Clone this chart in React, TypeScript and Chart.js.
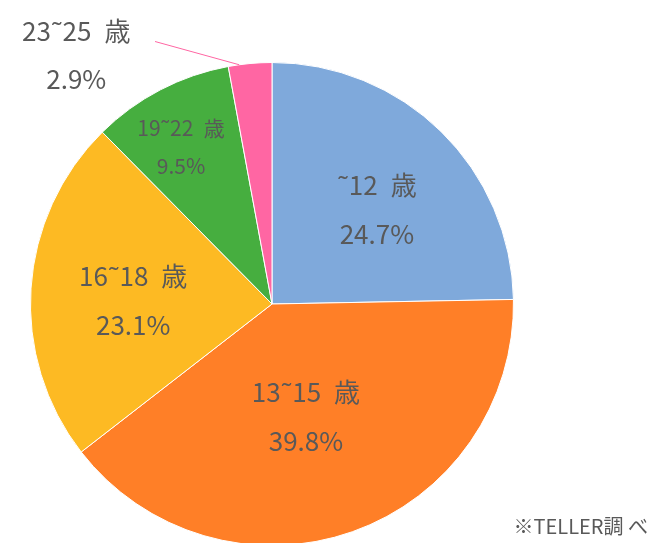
import React, { useEffect, useRef } from "react";
import { Chart, registerables } from "chart.js";

Chart.register(...registerables);

const categories = ["˜12\u2002歳", "13˜15\u2002歳", "16˜18\u2002歳", "19˜22\u2002歳", "23˜25\u2002歳"];
const shares = [24.7, 39.8, 23.1, 9.5, 2.9];
const percentLabels = ["24.7%", "39.8%", "23.1%", "9.5%", "2.9%"];
const colors = ["#7FA9DB", "#FF7F27", "#FDBA23", "#46AE3F", "#FF66A3"];
const sourceNote = "※TELLER調 べ";

// label layout: radial factor, angle offset (deg) from slice mid-angle, font size, line gap
const labelLayout = [
  { f: 0.583, off: 3.7, size: 26, gap: 49 },
  { f: 0.488, off: 2.7, size: 26, gap: 49 },
  { f: 0.575, off: -2.2, size: 26, gap: 49 },
  { f: 0.75, off: -2.6, size: 21, gap: 38 },
  { f: 1.31, off: -33, size: 26, gap: 48, leader: { f1: 1.0, o1: -2.6, f2: 1.19, o2: -18.8 } },
];

const FONT = '"Noto Sans CJK JP", "Noto Sans", sans-serif';

const labelPlugin = {
  id: "pieLabels",
  afterDatasetsDraw(chart: any) {
    const ctx = chart.ctx;
    const meta = chart.getDatasetMeta(0);
    meta.data.forEach((arc: any, i: number) => {
      const p = arc.getProps(["x", "y", "startAngle", "endAngle", "outerRadius"], true);
      const mid = (p.startAngle + p.endAngle) / 2;
      const L = labelLayout[i];
      const a = mid + (L.off * Math.PI) / 180;
      const cx = p.x + Math.cos(a) * p.outerRadius * L.f;
      const cy = p.y + Math.sin(a) * p.outerRadius * L.f;
      ctx.save();
      if (L.leader) {
        const a1 = mid + (L.leader.o1 * Math.PI) / 180;
        const a2 = mid + (L.leader.o2 * Math.PI) / 180;
        ctx.strokeStyle = colors[i];
        ctx.lineWidth = 1;
        ctx.beginPath();
        ctx.moveTo(p.x + Math.cos(a1) * p.outerRadius * L.leader.f1, p.y + Math.sin(a1) * p.outerRadius * L.leader.f1);
        ctx.lineTo(p.x + Math.cos(a2) * p.outerRadius * L.leader.f2, p.y + Math.sin(a2) * p.outerRadius * L.leader.f2);
        ctx.stroke();
      }
      ctx.fillStyle = "#595959";
      ctx.textAlign = "center";
      ctx.textBaseline = "middle";
      ctx.font = `${L.size}px ${FONT}`;
      ctx.fillText(categories[i], cx, cy - L.gap / 2);
      ctx.fillText(percentLabels[i], cx, cy + L.gap / 2);
      ctx.restore();
    });
    ctx.save();
    ctx.fillStyle = "#595959";
    ctx.font = `20px ${FONT}`;
    ctx.textAlign = "right";
    ctx.textBaseline = "middle";
    ctx.fillText(sourceNote, 648, 526);
    ctx.restore();
  },
};

export default function App() {
  const ref = useRef<HTMLCanvasElement>(null);
  useEffect(() => {
    if (!ref.current) return;
    const chart = new Chart(ref.current, {
      type: "pie",
      data: {
        labels: categories,
        datasets: [
          {
            data: shares,
            backgroundColor: colors,
            borderColor: "#FFFFFF",
            borderWidth: 1,
          },
        ],
      },
      options: {
        responsive: false,
        animation: false,
        layout: { padding: { left: 30, right: 138, top: 62, bottom: 6 } },
        plugins: {
          legend: { display: false },
          tooltip: { enabled: false },
        },
      },
      plugins: [labelPlugin],
    });
    return () => chart.destroy();
  }, []);
  return (
    <div style={{ position: "fixed", left: 0, top: 0, width: 652, height: 543, overflow: "hidden", background: "#fff" }}>
      <canvas ref={ref} width={652} height={552} style={{ width: 652, height: 552, display: "block" }} />
    </div>
  );
}
